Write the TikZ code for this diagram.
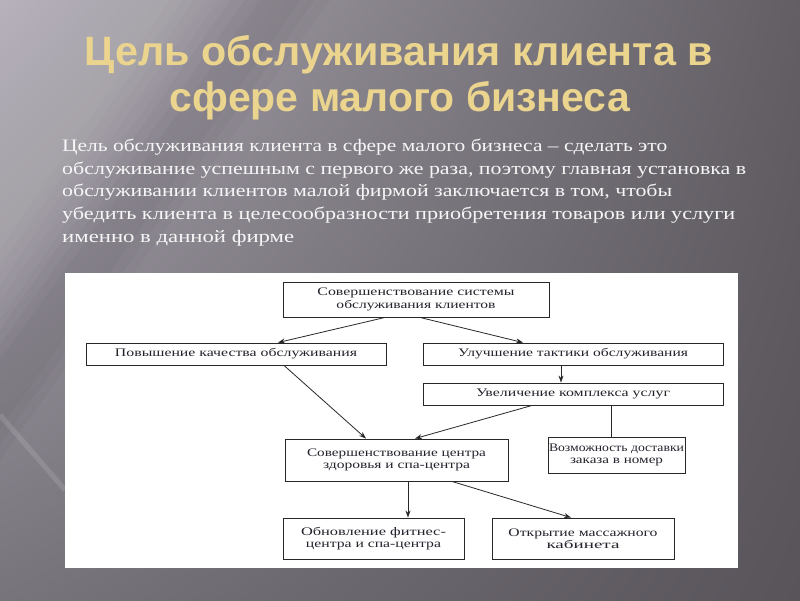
\documentclass[tikz,border=0pt]{standalone}
\usepackage{fontspec}
\setmainfont{Liberation Serif}
\newfontfamily\titlefont{Liberation Sans}
\usetikzlibrary{arrows.meta,shadings}
\newcommand\fitw[2]{\resizebox{#1}{\height}{#2}}
\definecolor{titlecol}{RGB}{234,212,142}
\definecolor{bodycol}{RGB}{246,246,246}
\definecolor{linecol}{RGB}{40,40,40}
\definecolor{boxtext}{RGB}{35,35,45}
\definecolor{bgUL}{RGB}{172,167,177}
\definecolor{bgUR}{RGB}{98,94,100}
\definecolor{bgLL}{RGB}{120,116,124}
\definecolor{bgLR}{RGB}{88,84,90}
\begin{document}
\begin{tikzpicture}[x=1pt,y=-1pt,
  box/.style={draw=linecol, line width=0.9pt, fill=white, inner sep=0pt, align=center,
    font=\fontsize{11.5}{12.5}\selectfont, text=boxtext},
  arr/.style={-{Stealth[length=7pt,width=5pt]}, line width=0.8pt, draw=linecol},
  plain/.style={line width=0.8pt, draw=linecol},
  titletext/.style={anchor=base, text=titlecol, inner sep=0pt,
    font=\titlefont\bfseries\fontsize{41}{46}\selectfont},
  bodytext/.style={anchor=base west, text=bodycol, inner sep=0pt,
    font=\fontsize{17.5}{22}\selectfont}]
\useasboundingbox (0,0) rectangle (800,600);
% background
\shade[upper left=bgUL, upper right=bgUR, lower left=bgLL, lower right=bgLR] (0,0) rectangle (800,600);
\foreach \d in {0,12,24,36,48}{
  \fill[white, opacity=0.03] (0,0) -- ({170+\d},0) -- (0,{250+1.45*\d}) -- cycle;
}
\foreach \d in {0,15,30}{
  \fill[black, opacity=0.025] ({230+\d},0) -- ({300+\d},0) -- (0,{430+\d}) -- (0,{330+\d}) -- cycle;
}
\draw[white, opacity=0.12, line width=5pt] (0,415) -- (65,490);
% title
\node[titletext] (t1) at (399,65) {\fitw{628pt}{Цель обслуживания клиента в}};
\node[titletext] (t2) at (400,111) {\fitw{460pt}{сфере малого бизнеса}};
% body text
\node[bodytext] (p1) at (62,151) {\fitw{605pt}{Цель обслуживания клиента в сфере малого бизнеса – сделать это}};
\node[bodytext] (p2) at (62,174) {\fitw{684pt}{обслуживание успешным с первого же раза, поэтому главная установка в}};
\node[bodytext] (p3) at (62,196.5) {\fitw{610pt}{обслуживании клиентов малой фирмой заключается в том, чтобы}};
\node[bodytext] (p4) at (62,219) {\fitw{673pt}{убедить клиента в целесообразности приобретения товаров или услуги}};
\node[bodytext] (p5) at (62,242) {\fitw{232pt}{именно в данной фирме}};
% white panel
\fill[white] (65,273) rectangle (738,568);
% boxes
\node[box, minimum width=266pt, minimum height=35pt] (b1) at (416,299.5)
  {\fitw{197pt}{Совершенствование системы}\\\fitw{159pt}{обслуживания клиентов}};
\node[box, minimum width=300pt, minimum height=22pt] (b2) at (236,354)
  {\fitw{242pt}{Повышение качества обслуживания}};
\node[box, minimum width=300pt, minimum height=22pt] (b3) at (573,354)
  {\fitw{230pt}{Улучшение тактики обслуживания}};
\node[box, minimum width=300pt, minimum height=22pt] (b4) at (573,394)
  {\fitw{194pt}{Увеличение комплекса услуг}};
\node[box, minimum width=223pt, minimum height=42pt] (b5) at (396.5,460)
  {\fitw{179pt}{Совершенствование центра}\\\fitw{147pt}{здоровья и спа-центра}};
\node[box, minimum width=137pt, minimum height=36pt] (b6) at (616.5,455)
  {\fitw{135pt}{Возможность доставки}\\\fitw{93pt}{заказа в номер}};
\node[box, minimum width=181pt, minimum height=41pt] (b7) at (373.5,538.5)
  {\fitw{145pt}{Обновление фитнес-}\\\fitw{135pt}{центра и спа-центра}};
\node[box, minimum width=182pt, minimum height=41pt] (b8) at (583,538.5)
  {\fitw{149pt}{Открытие массажного}\\\fitw{73pt}{кабинета}};
% small mark under b5
\draw[linecol, line width=1.6pt] ([xshift=-78pt]b5.south) -- ([xshift=-56pt]b5.south);
% connectors
\draw[arr] ([xshift=-31pt]b1.south) -- ([xshift=42pt]b2.north);
\draw[arr] ([xshift=4pt]b1.south) -- ([xshift=-50pt]b3.north);
\draw[arr] ([xshift=-12pt]b3.south) -- ([xshift=-12pt]b4.north);
\draw[arr] ([xshift=48pt]b2.south) -- ([xshift=-30.5pt]b5.north);
\draw[arr] ([xshift=-41pt]b4.south) -- ([xshift=18.5pt]b5.north);
\draw[plain] ([xshift=38pt]b4.south) -- ([xshift=-5.5pt]b6.north);
\draw[arr] ([xshift=11.5pt]b5.south) -- ([xshift=34.5pt]b7.north);
\draw[arr] ([xshift=55.5pt]b5.south) -- ([xshift=-12pt]b8.north);
\end{tikzpicture}
\end{document}
